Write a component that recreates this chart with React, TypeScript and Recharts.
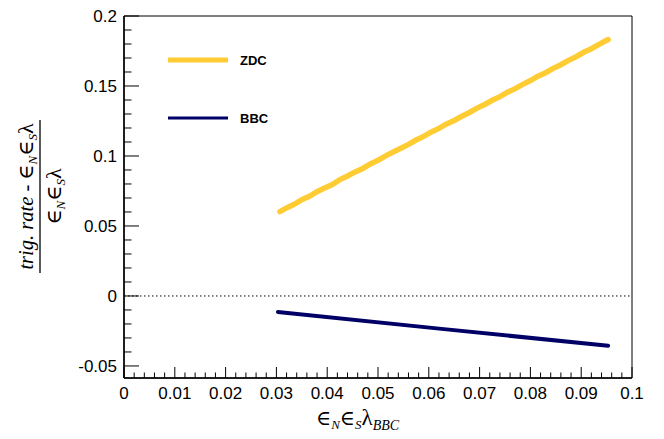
import { LineChart, Line, XAxis, YAxis, ReferenceLine, ReferenceArea, Legend } from "recharts"

// trigger-rate deviation vs eN*eS*lambda (BBC)
const zdcX = [
  0.0307, 0.032, 0.0335, 0.035, 0.0365, 0.038, 0.0395, 0.041, 0.0425, 0.044, 0.0455, 0.047, 0.0485, 0.05, 0.0515,
  0.053, 0.0545, 0.056, 0.0575, 0.059, 0.0605, 0.062, 0.0635, 0.065, 0.0665, 0.068, 0.0695, 0.071, 0.0725, 0.074,
  0.0755, 0.077, 0.0785, 0.08, 0.0815, 0.083, 0.0845, 0.086, 0.0875, 0.089, 0.0905, 0.092, 0.0935, 0.0953,
]
const zdcY = [
  0.0603, 0.0629, 0.0655, 0.0688, 0.0712, 0.0745, 0.0771, 0.0796, 0.0831, 0.0857, 0.0886, 0.0911, 0.0943, 0.0969, 0.1001,
  0.1028, 0.1055, 0.1083, 0.1114, 0.114, 0.1172, 0.1197, 0.1229, 0.1254, 0.1284, 0.1311, 0.1342, 0.1368, 0.1398, 0.1424,
  0.1456, 0.1481, 0.1512, 0.1539, 0.157, 0.1595, 0.1626, 0.1652, 0.1683, 0.1709, 0.1741, 0.1766, 0.1797, 0.1832,
]
const bbcX = [0.0303, 0.0625, 0.0953]
const bbcY = [-0.0114, -0.0235, -0.0356]

const xMajor = [0, 0.01, 0.02, 0.03, 0.04, 0.05, 0.06, 0.07, 0.08, 0.09, 0.1]
const yMajor = [-0.05, 0, 0.05, 0.1, 0.15, 0.2]
const Y_MIN = -0.0586
const Y_MAX = 0.2

const ZDC_COLOR = "#ffcc33"
const BBC_COLOR = "#000066"

const zdcData = zdcX.map((x, i) => ({ x, y: zdcY[i] }))
const bbcData = bbcX.map((x, i) => ({ x, y: bbcY[i] }))

// 5 minor divisions per major, like ROOT's 510 divisions
const xTicks: number[] = []
for (let i = 0; i < xMajor.length - 1; i++) {
  for (let k = 0; k < 5; k++) xTicks.push(+(xMajor[i] + (k * (xMajor[i + 1] - xMajor[i])) / 5).toFixed(4))
}
xTicks.push(xMajor[xMajor.length - 1])
const yTicks: number[] = []
for (let i = 0; i < yMajor.length - 1; i++) {
  for (let k = 0; k < 5; k++) yTicks.push(+(yMajor[i] + (k * (yMajor[i + 1] - yMajor[i])) / 5).toFixed(4))
}
yTicks.push(yMajor[yMajor.length - 1])

const isMajor = (v: number, arr: number[]) => arr.some((m) => Math.abs(m - v) < 1e-6)

const TICK_FONT = "'Liberation Sans', Arial, Helvetica, sans-serif"
const MATH_FONT = "'Liberation Serif', 'DejaVu Serif', 'Times New Roman', serif"
const TICK_SIZE = 17

function XTick({ x, y, payload }: any) {
  const major = isMajor(payload.value, xMajor)
  return (
    <g>
      <line x1={x} y1={y} x2={x} y2={y - (major ? 11 : 5.5)} stroke="#000" strokeWidth={1} />
      {major && (
        <text x={x} y={y + 21} textAnchor="middle" fontFamily={TICK_FONT} fontSize={TICK_SIZE} fill="#000">
          {String(payload.value)}
        </text>
      )}
    </g>
  )
}

function YTick({ x, y, payload }: any) {
  const major = isMajor(payload.value, yMajor)
  return (
    <g>
      <line x1={x} y1={y} x2={x + (major ? 15 : 7.5)} y2={y} stroke="#000" strokeWidth={1} />
      {major && (
        <text x={x - 7} y={y + 6} textAnchor="end" fontFamily={TICK_FONT} fontSize={TICK_SIZE} fill="#000">
          {String(payload.value)}
        </text>
      )}
    </g>
  )
}

function Eps() {
  return (
    <>
      <tspan>∈</tspan>
      <tspan fontSize={13} fontStyle="italic" dy={4}>N</tspan>
      <tspan dy={-4}>∈</tspan>
      <tspan fontSize={13} fontStyle="italic" dy={4}>S</tspan>
      <tspan dy={-4} fontSize={22}>λ</tspan>
    </>
  )
}

function YTitle() {
  return (
    <g transform="translate(40,196.5) rotate(-90)">
      <text x={0} y={-7} textAnchor="middle" fontFamily={MATH_FONT} fontSize={20.5} fill="#000">
        <tspan fontStyle="italic">trig. rate - </tspan>
        <Eps />
      </text>
      <line x1={-76.5} y1={0} x2={76.5} y2={0} stroke="#000" strokeWidth={1.3} />
      <text x={0} y={21} textAnchor="middle" fontFamily={MATH_FONT} fontSize={20.5} fill="#000">
        <Eps />
      </text>
    </g>
  )
}

function XTitle() {
  return (
    <text x={316} y={425} fontFamily={MATH_FONT} fontSize={20.5} fill="#000">
      <tspan>∈</tspan>
      <tspan fontSize={13} fontStyle="italic" dy={4}>N</tspan>
      <tspan dy={-4}>∈</tspan>
      <tspan fontSize={13} fontStyle="italic" dy={4}>S</tspan>
      <tspan dy={-4} fontSize={23}>λ</tspan>
      <tspan fontSize={14} fontStyle="italic" dy={5}>BBC</tspan>
    </text>
  )
}

function LegendBox() {
  return (
    <svg width={120} height={100}>
      <line x1={8} y1={20} x2={68} y2={20} stroke={ZDC_COLOR} strokeWidth={5} />
      <text x={80} y={24.5} fontFamily={TICK_FONT} fontWeight="bold" fontSize={13} fill="#000">ZDC</text>
      <line x1={8} y1={78} x2={68} y2={78} stroke={BBC_COLOR} strokeWidth={3} />
      <text x={80} y={82.5} fontFamily={TICK_FONT} fontWeight="bold" fontSize={13} fill="#000">BBC</text>
    </svg>
  )
}

export default function App() {
  return (
    <div style={{ position: "absolute", left: 0, top: 0, background: "#fff" }}>
      <LineChart width={664} height={439} margin={{ top: 16, right: 32, bottom: 0, left: 0 }}>
        <XAxis
          type="number"
          dataKey="x"
          domain={[0, 0.1]}
          ticks={xTicks}
          interval={0}
          allowDataOverflow
          height={61}
          tickSize={0}
          tickMargin={0}
          tickLine={false}
          axisLine={{ stroke: "#000", strokeWidth: 1.5 }}
          tick={<XTick />}
          label={<XTitle />}
        />
        <YAxis
          type="number"
          dataKey="y"
          domain={[Y_MIN, Y_MAX]}
          ticks={yTicks}
          interval={0}
          allowDataOverflow
          width={124}
          tickSize={0}
          tickMargin={0}
          tickLine={false}
          axisLine={{ stroke: "#000", strokeWidth: 1.5 }}
          tick={<YTick />}
          label={<YTitle />}
        />
        <ReferenceArea x1={0} x2={0.1} y1={Y_MIN} y2={Y_MAX} fill="none" stroke="#000" strokeWidth={1} />
        <ReferenceLine y={0} stroke="#000" strokeWidth={1} strokeDasharray="1.5 2.5" />
        <Legend
          layout="horizontal"
          verticalAlign="middle"
          align="center"
          wrapperStyle={{ left: 160, top: 40, width: 120, height: 100 }}
          content={() => <LegendBox />}
        />
        <Line
          data={bbcData}
          dataKey="y"
          name="BBC"
          type="linear"
          stroke={BBC_COLOR}
          strokeWidth={4}
          strokeLinecap="round"
          dot={false}
          isAnimationActive={false}
        />
        <Line
          data={zdcData}
          dataKey="y"
          name="ZDC"
          type="linear"
          stroke={ZDC_COLOR}
          strokeWidth={5.5}
          strokeLinecap="round"
          dot={false}
          isAnimationActive={false}
        />
      </LineChart>
    </div>
  )
}
